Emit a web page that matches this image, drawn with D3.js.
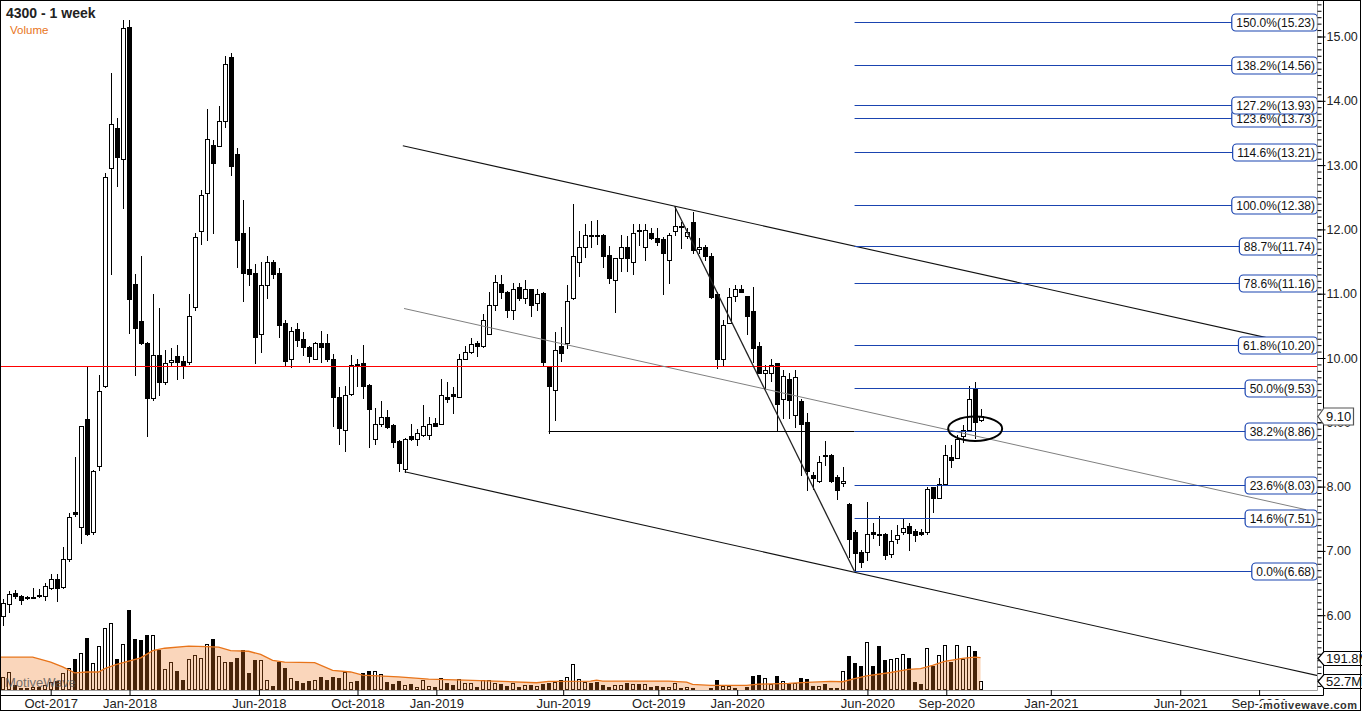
<!DOCTYPE html>
<html><head><meta charset="utf-8">
<script src="https://cdn.jsdelivr.net/npm/d3@7"></script>
<style>body{margin:0;background:#fff;} svg{display:block;} text{font-family:"Liberation Sans",Arial,sans-serif;}</style>
</head><body><svg id="c" width="1362" height="712"></svg>
<script>
// ---------- DATA ----------
const openP=[5.99,6.17,6.34,6.30,6.28,6.27,6.31,6.30,6.42,6.56,
6.44,6.87,7.60,7.37,9.05,7.30,8.32,9.57,12.95,13.58,
13.10,15.14,11.15,10.58,10.23,9.38,10.05,9.63,9.94,10.03,
9.95,9.94,10.79,11.97,12.56,13.32,13.29,13.68,14.68,13.17,
11.94,11.38,11.32,10.38,11.13,11.49,11.32,10.54,9.98,10.45,
10.30,10.17,9.99,10.23,10.23,9.98,9.40,8.88,9.44,9.91,
9.92,9.58,8.74,8.98,9.09,8.96,8.71,8.28,8.78,8.74,
8.81,8.80,8.99,8.98,9.39,9.44,9.40,9.99,10.09,10.24,
10.18,10.38,10.82,11.15,11.02,10.74,11.10,10.94,11.07,10.85,
11.01,9.87,9.50,10.18,10.23,10.94,11.50,11.72,11.91,11.92,
11.92,11.60,11.21,11.55,11.72,11.50,11.99,11.72,11.94,11.86,
11.85,11.52,11.97,12.05,11.89,12.11,11.69,11.72,11.58,10.99,
9.98,10.54,10.96,11.08,10.96,10.73,10.19,9.76,9.77,9.92,
9.36,9.68,9.12,9.33,9.00,8.18,8.08,8.49,8.49,8.15,
8.05,7.73,7.29,6.98,6.98,7.30,7.27,7.27,6.95,7.18,
7.30,7.38,7.31,7.29,7.30,7.99,7.83,8.04,8.46,8.45,
8.78,8.88,9.54,9.03];
const highP=[6.25,6.38,6.39,6.31,6.30,6.43,6.40,6.50,6.64,6.64,
7.06,7.59,8.46,8.95,9.87,8.26,9.74,12.88,14.44,13.74,
15.25,15.25,11.30,11.59,10.25,10.99,10.78,10.12,10.16,10.20,
10.03,11.00,11.94,12.61,13.87,13.39,13.92,14.70,14.75,13.26,
12.46,12.03,11.46,11.49,11.59,11.52,11.40,10.59,10.48,10.54,
10.40,10.19,10.25,10.42,10.37,10.06,9.55,9.57,10.04,9.99,
10.20,9.59,9.23,9.33,9.19,8.97,8.72,8.75,8.97,8.89,
9.27,9.08,9.06,9.67,9.62,9.55,10.06,10.18,10.31,10.27,
10.68,11.02,11.29,11.29,11.04,11.17,11.17,11.22,11.07,11.08,
11.02,9.88,10.41,10.48,11.14,12.39,11.97,12.09,12.13,12.15,
11.93,11.74,11.56,11.91,11.90,12.08,12.08,12.08,12.02,12.02,
11.88,11.94,12.36,12.12,12.02,12.27,11.86,11.76,11.63,11.03,
10.59,11.09,11.14,11.14,10.97,11.10,10.25,9.89,9.99,9.93,
9.81,9.76,9.81,9.37,9.15,8.23,8.47,8.71,8.50,8.18,
8.31,7.74,7.33,7.02,7.76,7.43,7.54,7.28,7.32,7.41,
7.51,7.43,7.34,7.34,8.00,8.00,8.14,8.65,8.65,8.80,
8.96,9.56,9.62,9.20];
const lowP=[5.85,6.05,6.27,6.17,6.25,6.26,6.28,6.23,6.40,6.22,
6.42,6.85,7.55,7.13,7.24,7.26,8.26,9.55,11.30,12.67,
12.34,10.39,9.74,10.22,8.79,9.34,9.43,9.60,9.89,9.67,
9.69,9.91,10.74,11.78,11.83,11.94,13.29,13.60,12.84,11.41,
10.89,11.13,9.92,10.10,10.94,11.24,10.32,9.88,9.86,10.18,
10.05,9.94,9.98,9.94,9.96,8.94,8.67,8.56,9.42,9.57,
9.38,8.62,8.67,8.95,8.91,8.62,8.25,8.23,8.72,8.64,
8.79,8.74,8.94,8.97,9.31,9.15,9.39,9.98,10.07,10.03,
10.17,10.37,10.75,10.93,10.64,10.61,10.90,10.85,10.66,10.75,
9.88,8.84,9.03,9.96,10.15,10.92,11.28,11.57,11.73,11.78,
11.41,11.16,10.71,11.36,11.36,11.30,11.76,11.52,11.85,11.76,
10.99,11.16,11.92,11.71,11.86,11.63,11.63,11.52,10.93,9.85,
9.88,10.54,10.88,11.02,10.37,9.94,9.76,9.53,9.64,8.88,
9.07,9.06,8.93,8.18,7.95,7.97,8.07,8.33,8.07,7.80,
8.01,6.91,6.68,6.75,6.86,7.20,7.09,6.88,6.90,7.13,
7.27,7.02,7.16,7.24,7.26,7.61,7.82,8.03,8.31,8.44,
8.70,8.87,8.75,9.02];
const closeP=[6.19,6.33,6.30,6.23,6.26,6.28,6.30,6.46,6.56,6.42,
6.87,7.52,7.57,8.94,7.26,8.24,9.49,12.82,13.64,13.12,
15.13,10.92,10.46,10.24,9.38,10.05,9.63,9.92,9.97,9.94,
9.88,10.65,11.88,12.53,13.40,13.04,13.68,14.58,12.99,11.83,
11.32,11.30,10.33,11.13,11.49,11.30,10.52,9.96,10.42,10.28,
10.17,10.03,10.23,10.17,9.98,9.39,8.91,9.42,9.89,9.90,
9.57,9.20,8.97,9.09,8.93,8.70,8.36,8.74,8.74,8.84,
8.94,8.97,8.95,9.42,9.37,9.41,9.98,10.09,10.22,10.19,
10.59,10.82,11.18,11.02,10.74,11.08,10.94,11.08,10.82,11.00,
9.94,9.57,10.12,10.08,10.88,11.58,11.72,11.91,11.89,11.90,
11.58,11.24,11.55,11.73,11.55,11.94,11.98,11.99,11.86,11.80,
11.63,11.91,12.06,12.03,11.96,11.68,11.72,11.58,10.95,9.98,
10.52,10.95,11.08,11.03,10.66,10.16,9.77,9.81,9.89,9.29,
9.72,9.35,9.70,8.98,8.24,8.14,8.39,8.47,8.08,7.94,
8.08,7.18,6.96,6.82,7.27,7.26,7.24,6.93,7.15,7.25,
7.35,7.28,7.24,7.26,7.96,7.83,8.04,8.49,8.42,8.74,
8.88,9.36,9.01,9.10];
// weekly volume, millions
const volume=[78,107,29,10,14,18,20,29,47,53,
101,133,182,221,311,162,264,367,397,182,
273,475,303,297,328,328,238,127,168,111,
59,186,205,191,273,303,199,168,166,189,
238,101,176,176,62,23,166,129,74,53,
41,55,59,76,57,76,72,109,47,53,
100,111,115,94,47,35,53,29,35,16,
57,23,18,74,41,27,68,41,41,18,
62,57,41,35,23,39,18,29,29,23,
37,43,49,57,80,156,68,47,43,47,
29,18,29,29,41,35,35,35,18,23,
18,16,41,12,18,14,8,8,12,59,
23,23,12,4,18,82,88,74,35,82,
53,35,39,70,64,23,23,35,12,12,
115,199,158,141,285,141,264,176,186,191,
211,188,47,35,250,145,205,268,164,268,
186,262,229,52.7];
// volume moving average readings (bar number, millions)
const volMaBar=[0.55,6,9,11,13,15,17,18,20,22,24,26,28,32,35,37,39,42,44,46,48,53,56,59,61,67,72,78,83,90,92,99,100,101,112,115,116,119,125,127,132,135,139,141,143,145,149,152,154,156,158,161,163,164];
const volMaVal=[195,195,166,137,102,107,107,127,152,172,191,234,248,260,258,254,234,230,211,176,166,162,117,107,88,78,64,59,53,43,51,53,59,53,53,47,33,27,27,35,39,45,51,49,68,84,104,123,127,146,170,188,195,191.8];
const firstWeek="2017-08-06";
const skippedWeeks=["2018-08-19","2019-06-02","2019-08-11"];
const monthTicks=["2017-10-01","2018-01-01","2018-06-01","2018-10-01","2019-01-01","2019-06-01","2019-10-01","2020-01-01","2020-06-01","2020-09-01","2021-01-01","2021-06-01","2021-09-01"];
const priceTicks=[6,7,8,9,10,11,12,13,14,15];
const fibPct=[0,14.6,23.6,38.2,50,61.8,78.6,88.7,100,114.6,123.6,127.2,138.2,150];
const fibPrice=[6.68,7.51,8.03,8.86,9.53,10.20,11.16,11.74,12.38,13.21,13.73,13.93,14.56,15.23];
const fibStartBar=142;
const resistance=9.87;
const supportLine=[[91,8.86],[142,8.86]];
const upperChannel=[[66.7,13.30],[219.2,10.14]];
const midChannel=[[66.9,10.77],[217.3,7.64]];
const lowerChannel=[[67,8.23],[219.2,5.06]];
const dropLine=[[112,12.36],[142,6.68]];
const ellipseCenter=[162.1,8.90], ellipseHalf=[4.5,0.19];
const lastPrice=9.10, maVolLabel=191.8, lastVolLabel=52.7;
const title="4300 - 1 week", volTitle="Volume";

// ---------- CHART ----------
const svg=d3.select("#c");
const PR=1318, PB=690, AXX=1323.5, XAY=695.5;
const N=closeP.length;
const x=d3.scaleLinear().domain([-0.45,219.25]).range([0,PR]);
const y=d3.scaleLinear().domain([6,15]).range([615.2,36.5]);
const vy=d3.scaleLinear().domain([0,475]).range([PB,610]);

// dates per bar
const parse=d3.utcParse("%Y-%m-%d"), fmt=d3.utcFormat("%Y-%m-%d");
const skip=new Set(skippedWeeks);
const dates=[]; let dd=parse(firstWeek);
while(dates.length<N){ if(!skip.has(fmt(dd))) dates.push(dd); dd=d3.utcDay.offset(dd,7); }
const WK=7*864e5;
function dateIdx(t){
  if(t<dates[0]) return (t-dates[0])/WK;
  for(let k=0;k<N-1;k++){ if(t>=dates[k]&&t<dates[k+1]) return k+(t-dates[k])/(dates[k+1]-dates[k]); }
  return N-1+(t-dates[N-1])/WK;
}

svg.append("rect").attr("width",1362).attr("height",712).attr("fill","#fff");
svg.append("defs").append("clipPath").attr("id","clip").append("rect").attr("x",0).attr("y",0).attr("width",PR).attr("height",PB);
const plot=svg.append("g").attr("clip-path","url(#clip)");

// volume bars
const vg=plot.append("g");
for(let i=0;i<N;i++){
  const cx=Math.round(x(i)); const top=Math.round(vy(volume[i]));
  const up=closeP[i]>=openP[i];
  vg.append("rect").attr("x",cx-1.5).attr("y",top+0.5).attr("width",3).attr("height",Math.max(0,PB-top-1))
    .attr("fill",up?"#fff":"#000").attr("stroke","#000").attr("stroke-width",1);
}
// volume MA
const maPts=volMaBar.map((b,k)=>[b-1,volMaVal[k]]);
plot.append("path").datum(maPts).attr("d",d3.area().x(d=>x(d[0])).y0(PB).y1(d=>vy(d[1])))
  .attr("fill","rgba(240,120,30,0.3)");
plot.append("path").datum(maPts).attr("d",d3.line().x(d=>x(d[0])).y(d=>vy(d[1])))
  .attr("fill","none").attr("stroke","#e8741a").attr("stroke-width",1.3);

// candles
const cg=plot.append("g");
for(let i=0;i<N;i++){
  const cx=Math.round(x(i));
  const o=openP[i],c=closeP[i],up=c>=o;
  cg.append("line").attr("x1",cx+0.5).attr("x2",cx+0.5).attr("y1",Math.round(y(highP[i]))).attr("y2",Math.round(y(lowP[i]))+1)
    .attr("stroke","#000").attr("stroke-width",1);
  const top=Math.round(y(Math.max(o,c))); let bot=Math.round(y(Math.min(o,c))); if(bot-top<1) bot=top+1;
  cg.append("rect").attr("x",cx-1.5).attr("y",top+0.5).attr("width",4).attr("height",bot-top)
    .attr("fill",up?"#fff":"#000").attr("stroke","#000").attr("stroke-width",1);
}

const line=d3.line().x(d=>x(d[0])).y(d=>y(d[1]));
// red resistance
const ry=Math.round(y(resistance))+0.5;
plot.append("line").attr("x1",0).attr("x2",PR).attr("y1",ry).attr("y2",ry).attr("stroke","#ff0000").attr("stroke-width",1);
// trend lines
plot.append("path").datum(upperChannel).attr("d",line).attr("stroke","#111").attr("stroke-width",1.1).attr("fill","none");
plot.append("path").datum(midChannel).attr("d",line).attr("stroke","#808080").attr("stroke-width",1).attr("fill","none");
plot.append("path").datum(lowerChannel).attr("d",line).attr("stroke","#111").attr("stroke-width",1.1).attr("fill","none");
plot.append("path").datum(dropLine).attr("d",line).attr("stroke","#222").attr("stroke-width",1.3).attr("fill","none");
const sy=Math.round(y(supportLine[0][1]))+0.5;
plot.append("line").attr("x1",x(supportLine[0][0])).attr("x2",x(supportLine[1][0])).attr("y1",sy).attr("y2",sy).attr("stroke","#000");

// fib lines
const BLUE="#1a44b0";
fibPrice.forEach(p=>{
  const yy=Math.round(y(p))+0.5;
  plot.append("line").attr("x1",x(fibStartBar)).attr("x2",PR).attr("y1",yy).attr("y2",yy).attr("stroke",BLUE).attr("stroke-width",1);
});
// ellipse
plot.append("ellipse").attr("cx",x(ellipseCenter[0])).attr("cy",y(ellipseCenter[1]))
  .attr("rx",x(ellipseCenter[0]+ellipseHalf[0])-x(ellipseCenter[0]))
  .attr("ry",y(ellipseCenter[1]-ellipseHalf[1])-y(ellipseCenter[1]))
  .attr("fill","none").attr("stroke","#000").attr("stroke-width",2);
// fib labels
fibPrice.forEach((p,k)=>{
  const yy=Math.round(y(p))+0.5;
  const g=svg.append("g");
  const r=g.append("rect");
  const t=g.append("text").attr("x",PR-3).attr("y",yy+4.5).attr("text-anchor","end").attr("font-size",12).attr("fill","#111")
    .text(d3.format(".1f")(fibPct[k])+"%("+d3.format(".2f")(p)+")");
  const w=t.node().getComputedTextLength();
  r.attr("x",PR-3-w-4.5).attr("y",yy-8.5).attr("width",w+7).attr("height",17).attr("rx",4)
    .attr("fill","#fff").attr("stroke",BLUE).attr("stroke-width",1.2);
});

// plot borders
svg.append("line").attr("x1",PR-0.5).attr("x2",PR-0.5).attr("y1",0).attr("y2",PB+0.5).attr("stroke","#a0a0a0");
svg.append("line").attr("x1",0).attr("x2",PR-0.5).attr("y1",PB+0.5).attr("y2",PB+0.5).attr("stroke","#a0a0a0");
svg.append("line").attr("x1",AXX).attr("x2",AXX).attr("y1",0).attr("y2",XAY).attr("stroke","#000");
svg.append("line").attr("x1",0).attr("x2",AXX).attr("y1",XAY).attr("y2",XAY).attr("stroke","#000");

// price axis
const minor=svg.append("g").attr("transform",`translate(${PR-0.5},0)`)
  .call(d3.axisRight(y).tickValues(d3.range(49,156).map(v=>v/10)).tickSize(4).tickFormat(""));
minor.select(".domain").remove();
const major=svg.append("g").attr("transform",`translate(${PR-0.5},0)`)
  .call(d3.axisRight(y).tickValues(priceTicks).tickSize(8).tickPadding(1).tickFormat(d3.format(".2f")));
major.select(".domain").remove();
major.selectAll("text").attr("font-size",12.5).attr("fill","#222").attr("font-family","Liberation Sans, Arial, sans-serif");

// time axis
const tickIdx=monthTicks.map(s=>dateIdx(parse(s)));
const xa=svg.append("g").attr("transform",`translate(0,${PB})`)
  .call(d3.axisBottom(x).tickValues(tickIdx).tickSize(5).tickPadding(4)
    .tickFormat((d,i)=>d3.utcFormat("%b-%Y")(parse(monthTicks[i]))));
xa.select(".domain").remove();
xa.selectAll("text").attr("font-size",13).attr("fill","#222").attr("font-family","Liberation Sans, Arial, sans-serif");

// last price marker
function marker(yy,h,label,stroke,x2){
  const t=yy-h/2,b=yy+h/2;
  svg.append("path").attr("d",`M${PR},${yy}L${PR+6},${t}L${x2},${t}L${x2},${b}L${PR+6},${b}Z`)
    .attr("fill","#fff").attr("stroke",stroke).attr("stroke-width",1.2);
  svg.append("text").attr("x",PR+8).attr("y",yy+4.5).attr("font-size",13).attr("fill","#111").text(label);
}
marker(Math.round(y(lastPrice))+0.5,17,d3.format(".2f")(lastPrice),"#555",1353.5);
marker(Math.round(vy(maVolLabel))+0.5,14,d3.format(".1f")(maVolLabel)+"M","#000",1366);
marker(Math.round(vy(lastVolLabel))+0.5,14,d3.format(".1f")(lastVolLabel)+"M","#000",1366);

// watermarks
svg.append("text").attr("x",5).attr("y",687).attr("font-size",13).attr("fill","#555").attr("opacity",0.8).text("MotiveWave");
svg.append("rect").attr("x",1262).attr("y",700).attr("width",98).attr("height",10).attr("fill","#fff");
svg.append("text").attr("x",1263).attr("y",708.5).attr("font-size",11).attr("font-weight","bold").attr("fill","#333")
  .attr("textLength",94).attr("lengthAdjust","spacing").text("motivewave.com");

// titles
svg.append("text").attr("x",6).attr("y",18).attr("font-size",14).attr("font-weight","bold").attr("fill","#222").text(title);
svg.append("text").attr("x",10).attr("y",34).attr("font-size",11.5).attr("fill","#e8741a").text(volTitle);

// outer frame
svg.append("rect").attr("x",0.5).attr("y",0.5).attr("width",1360).attr("height",710).attr("fill","none").attr("stroke","#000");
</script></body></html>
